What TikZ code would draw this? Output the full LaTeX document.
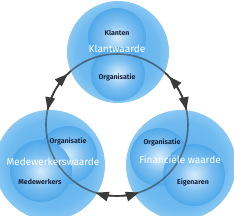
\documentclass[tikz,border=0pt]{standalone}
\usepackage{fontspec}
\setmainfont{Fira Sans}
\usetikzlibrary{arrows.meta}
\definecolor{bgA}{HTML}{4AA5EA}
\definecolor{bgB}{HTML}{5FB3EE}
\definecolor{bgC}{HTML}{8ECBF4}
\definecolor{bgD}{HTML}{C5E5FA}
\definecolor{bgE}{HTML}{F0F8FE}
\definecolor{inA}{HTML}{EEF7FE}
\definecolor{inB}{HTML}{C8E5FA}
\definecolor{inC}{HTML}{7FC1F1}
\definecolor{inD}{HTML}{4FA8EA}
\definecolor{inE}{HTML}{3591DD}
\definecolor{inF}{HTML}{2580D4}
\definecolor{inG}{HTML}{3A98E2}
\definecolor{ringcol}{HTML}{3A3A3A}
\definecolor{navy}{HTML}{14243F}
\pgfdeclareradialshading{bigglow}{\pgfpoint{0bp}{0bp}}{color(0bp)=(bgA); color(20bp)=(bgB); color(28bp)=(bgC); color(33bp)=(bgD); color(35.4bp)=(bgE); color(50bp)=(bgE)}
\pgfdeclareradialshading{innerglow}{\pgfpoint{0bp}{0bp}}{color(0bp)=(inA); color(5bp)=(inB); color(14bp)=(inC); color(24bp)=(inD); color(30bp)=(inE); color(33.5bp)=(inF); color(35.4bp)=(inG); color(50bp)=(inG)}
\tikzset{
  bigc/.style={shading=bigglow, fill opacity=0.9},
  innerc/.style={shading=innerglow, fill opacity=0.82},
  ringline/.style={draw=ringcol, line width=1.6pt},
  arr/.style={draw=ringcol, line width=1.6pt, -{Triangle[length=13pt,width=9.5pt]}},
  darklbl/.style={text=navy, font=\bfseries\fontsize{7}{8}\selectfont, inner sep=0pt},
  whitelbl/.style={text=white, font=\fontsize{10}{11}\selectfont, inner sep=0pt}
}
\begin{document}
\begin{tikzpicture}[x=1pt,y=1pt]
\useasboundingbox (0,0) rectangle (234,216);
\coordinate (C) at (117,91);
% ring underneath
\draw[ringline] (C) circle[radius=71];
% big circles
\shade[bigc] (118,164) circle[radius=51];
\shade[bigc] (50,51) circle[radius=55];
\shade[bigc] (181,51) circle[radius=55];
% inner circles
\shade[innerc] (117,179) circle[radius=29];
\shade[innerc] (118,142) circle[radius=27];
\shade[innerc] (68,61) circle[radius=29];
\shade[innerc] (41,45) circle[radius=31];
\shade[innerc] (159,59) circle[radius=29];
\shade[innerc] (194,41) circle[radius=31];
% ring on top, translucent
\draw[ringline, draw opacity=0.55] (C) circle[radius=71];
% arrows
\draw[arr] (C) ++(147:71) arc[start angle=147, end angle=134, radius=71];
\draw[arr] (C) ++(155:71) arc[start angle=155, end angle=168, radius=71];
\draw[arr] (C) ++(30:71) arc[start angle=30, end angle=43, radius=71];
\draw[arr] (C) ++(25:71) arc[start angle=25, end angle=12, radius=71];
\draw[arr] (C) ++(265:71) arc[start angle=265, end angle=252.5, radius=71];
\draw[arr] (C) ++(275:71) arc[start angle=275, end angle=288, radius=71];
% labels
\node[darklbl] (k1) at (117,183) {Klanten};
\node[whitelbl] (k2) at (117,167) {Klantwaarde};
\node[darklbl] (k3) at (117,139) {Organisatie};
\node[darklbl] (m1) at (68,75) {Organisatie};
\node[whitelbl] (m2) at (53,54) {Medewerkerswaarde};
\node[darklbl] (m3) at (40,34) {Medewerkers};
\node[darklbl] (f1) at (162,74) {Organisatie};
\node[whitelbl] (f2) at (180,56) {Financiële waarde};
\node[darklbl] (f3) at (193,34) {Eigenaren};
\end{tikzpicture}
\end{document}
